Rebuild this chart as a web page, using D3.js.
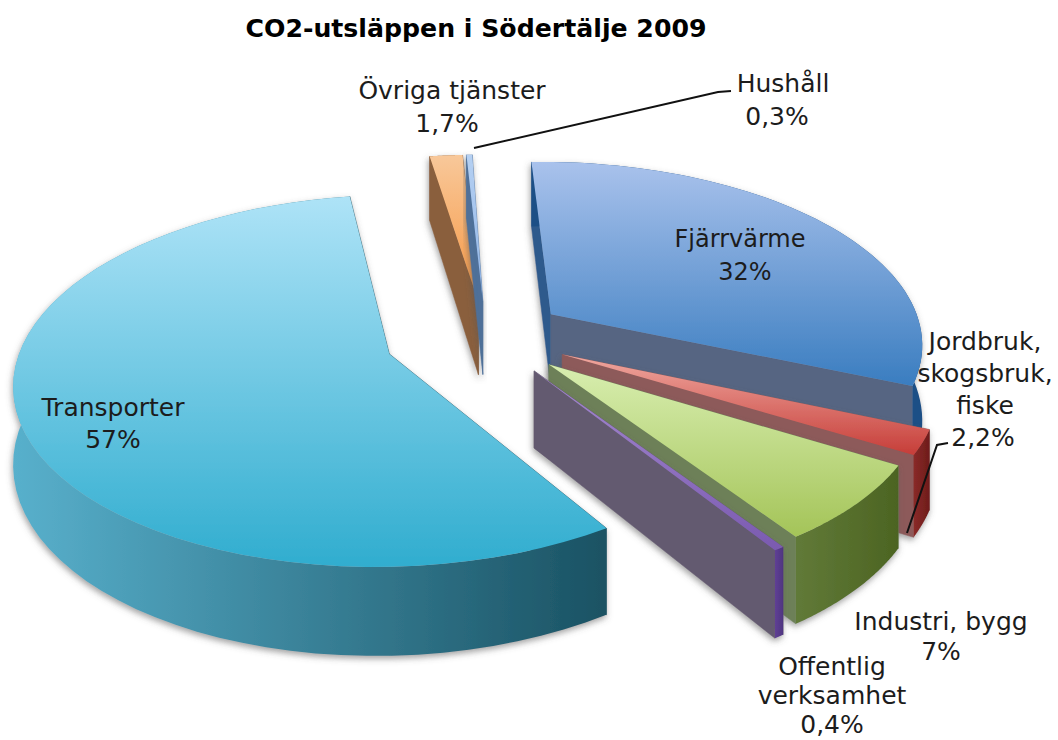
<!DOCTYPE html>
<html><head><meta charset="utf-8">
<script src="https://cdn.jsdelivr.net/npm/d3@7"></script>
<style>html,body{margin:0;padding:0;background:#fff}svg{display:block}text{font-family:"DejaVu Sans",sans-serif;fill:#1c1c1c;text-anchor:middle}</style>
</head><body><svg id="c" width="1058" height="740"></svg>
<script>
const categories = ["Fjärrvärme","Jordbruk, skogsbruk, fiske","Industri, bygg","Offentlig verksamhet","Transporter","Övriga tjänster","Hushåll"];
const values = [32,2.2,7,0.4,57,1.7,0.3];
const valueLabels = ["32%","2,2%","7%","0,4%","57%","1,7%","0,3%"];
const explode = [0.22,0.23,0.23,0.23,0.28,0.2,0.2];
const sliceRadius = [1.02,1,0.99,1,1,1,1];
const paintOrder = [5,6,0,1,2,4,3];
const topColors = [["#a9c2ec","#3a7dc0"],["#f0a8a0","#c63d38"],["#d8eeb0","#a4c458"],["#a58ad0","#7a5ab0"],["#aee3f7","#30adcf"],["#f8c89a","#f79640"],["#b5d0f2","#8fb4e6"]];
const rimColors = [["#1b4f86","#1b4f86"],["#8a2a28","#6e1c1a"],["#617a38","#4c6422"],["#5f3f95","#4f3580"],["#58b0cc","#1a5263"],["#8a5f3c","#8a5f3c"],["#4f7099","#4f7099"]];
const cutColors = [["#2f5a8c","#566582"],["#8d5a5a","#8d5a5a"],["#6d8059","#6d8059"],["#645a70","#645a70"],["#1a5263","#1a5263"],["#8a5f3c","#8a5f3c"],["#4f7099","#4f7099"]];
const startDeg = 358.3;

const cx=486, cy=336, px=472, d=7, tilt=0.485, depth=75;
const radius = d3.scaleLinear().domain([0,1]).range([0,365]);
const svg = d3.select("#c"), defs = svg.append("defs");
const shadow = defs.append("filter").attr("id","sh").attr("x","-20%").attr("y","-20%").attr("width","140%").attr("height","140%");
shadow.append("feDropShadow").attr("dx",-1).attr("dy",3).attr("stdDeviation",3).attr("flood-color","#555").attr("flood-opacity",.55);
function grad(id,c,vertical){
  const g=defs.append("linearGradient").attr("id",id).attr("x1",0).attr("y1",0).attr("x2",vertical?0:1).attr("y2",vertical?1:0);
  g.append("stop").attr("offset",0).attr("stop-color",c[0]);
  g.append("stop").attr("offset",1).attr("stop-color",c[1]);
  return `url(#${id})`;
}
function proj(X,Y,z){
  const s=d/(d-Y);
  return [px+(radius.invert(cx-px)+X)*s*radius(1), cy+Y*tilt*s*radius(1)+z*depth*s];
}
const pie = d3.pie().sort(null).startAngle(startDeg*Math.PI/180).endAngle(startDeg*Math.PI/180+2*Math.PI);
const arcs = pie(values);
const line = d3.line();
function slice(i){
  const a=arcs[i], mid=(a.startAngle+a.endAngle)/2, e=explode[i], R=sliceRadius[i];
  const ax=e*Math.sin(mid), ay=-e*Math.cos(mid);
  const pt=(ang,r,z)=>proj(ax+r*R*Math.sin(ang),ay-r*R*Math.cos(ang),z);
  const angs=d3.range(0,61).map(k=>a.startAngle+(a.endAngle-a.startAngle)*k/60);
  const g=svg.append("g").attr("filter","url(#sh)");
  const topF=grad("t"+i,topColors[i],true), rimF=grad("r"+i,rimColors[i],false);
  const wall=(ang,fill)=>g.append("path").attr("fill",fill).attr("stroke",fill).attr("stroke-width",.5)
    .attr("d",line([pt(ang,0,0),pt(ang,1,0),pt(ang,1,1),pt(ang,0,1)])+"Z");
  wall(a.startAngle,cutColors[i][0]);
  wall(a.endAngle,cutColors[i][1]);
  g.append("path").attr("fill",rimF)
   .attr("d",line(angs.map(t=>pt(t,1,0)).concat(angs.slice().reverse().map(t=>pt(t,1,1))))+"Z");
  g.append("path").attr("fill",topF)
   .attr("d",line([pt(a.startAngle,0,0)].concat(angs.map(t=>pt(t,1,0))))+"Z");
}
paintOrder.forEach(slice);

svg.append("text").attr("x",476).attr("y",37).attr("font-size",25.2).attr("font-weight","bold").style("fill","#000")
  .text("CO2-utsläppen i Södertälje 2009");

const labelLines = [["Fjärrvärme"],["Jordbruk,","skogsbruk,","fiske"],["Industri, bygg"],["Offentlig","verksamhet"],["Transporter"],["Övriga tjänster"],["Hushåll"]];
const labelPos = [[740,247,33],[985,350,32],[941,630,30],[832,675,29],[113,416,32],[452,99,33],[783,92,33]];
labelLines.forEach((ls,i)=>{
  const [x,y,lh]=labelPos[i];
  ls.concat(valueLabels[i]).forEach((t,k)=>{
    const nudge = i===5&&k===1?-5 : i===6&&k===1?-6 : i===0&&k===1?5 : i===1&&k===3?-2 : 0;
    svg.append("text").attr("x",x+nudge).attr("y",y+k*lh).attr("font-size",i===0?24:25).text(t);
  });
});
const leaders=[[[474,148],[718,92],[731,91]],[[907,533],[937,445],[948,443]]];
leaders.forEach(l=>svg.append("path").attr("d",line(l)).attr("fill","none").attr("stroke","#111").attr("stroke-width",2));
</script></body></html>
